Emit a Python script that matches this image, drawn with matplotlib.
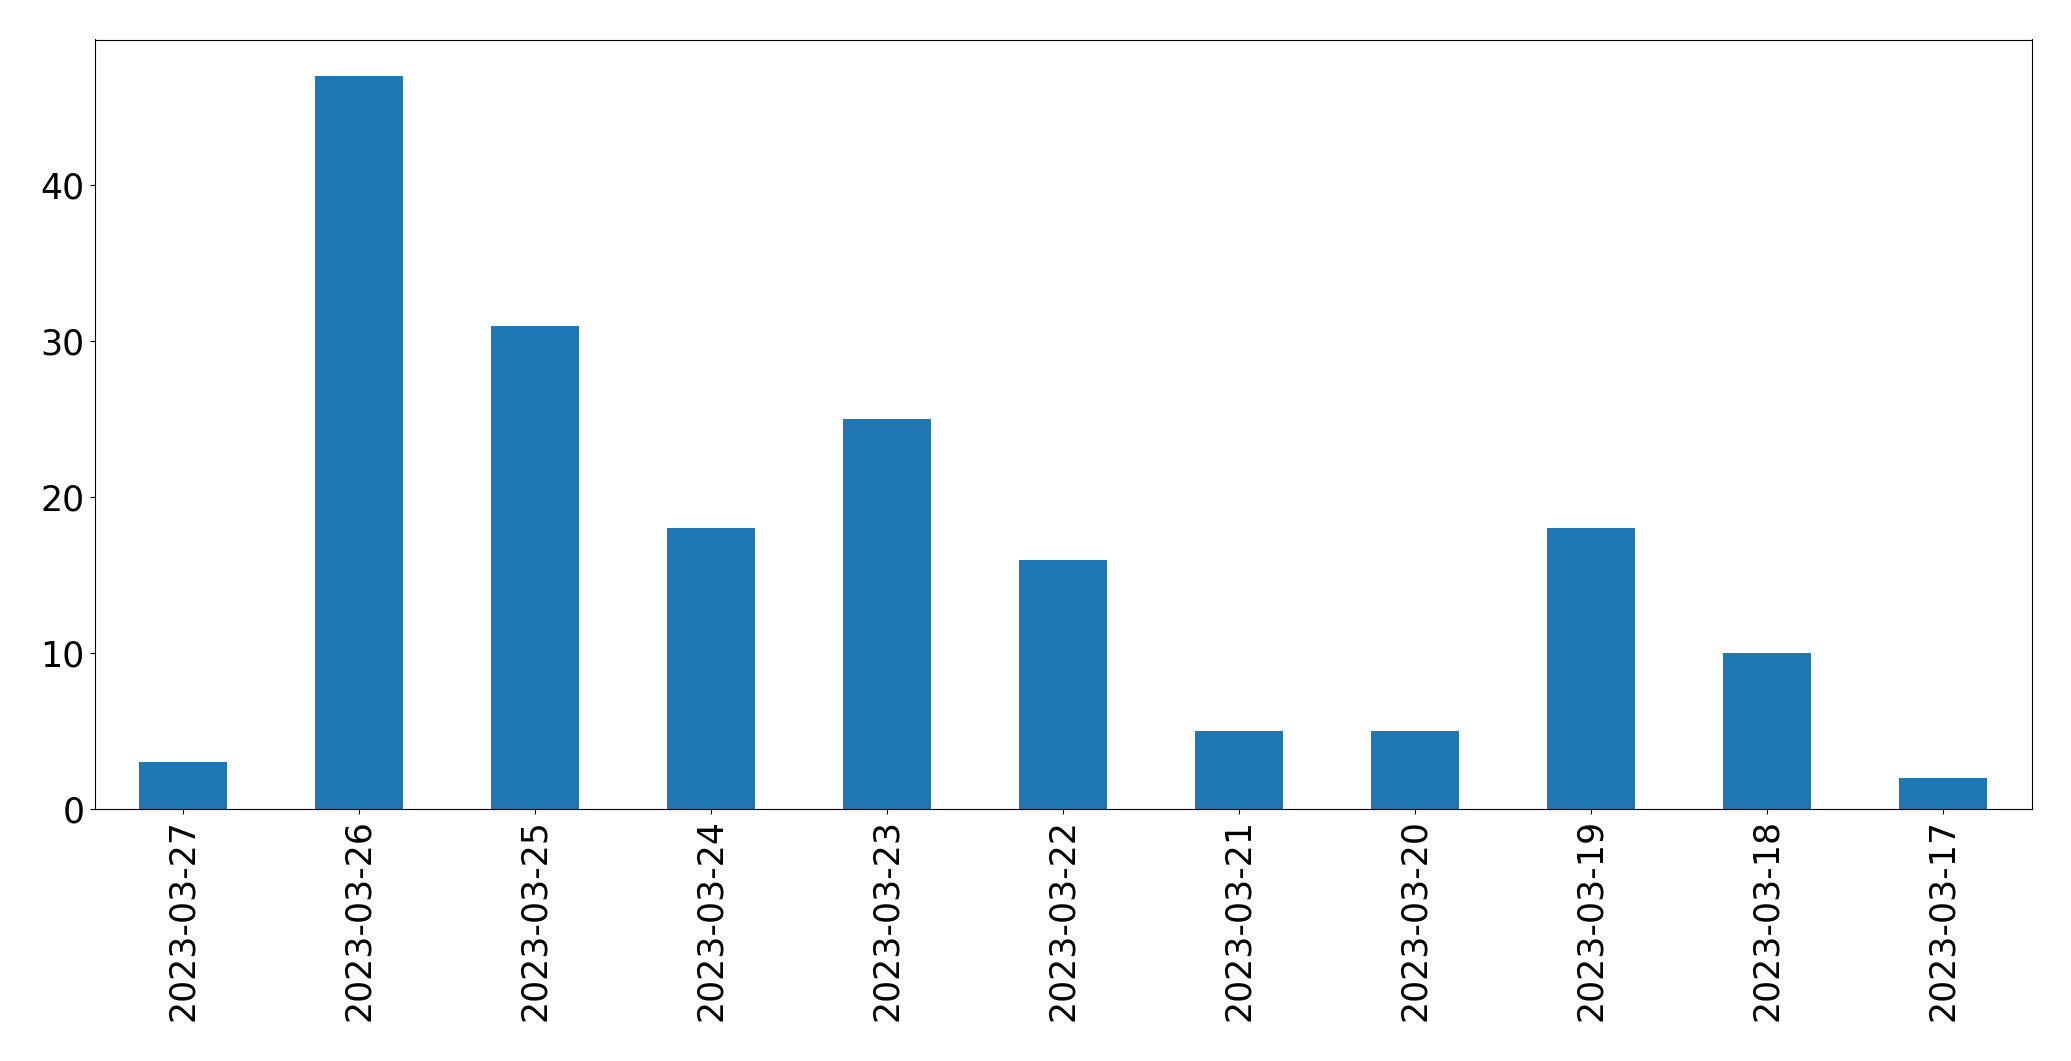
import matplotlib
matplotlib.use("Agg")
import matplotlib.pyplot as plt
import numpy as np

# daily counts, newest first
dates = ["2023-03-27", "2023-03-26", "2023-03-25", "2023-03-24", "2023-03-23",
         "2023-03-22", "2023-03-21", "2023-03-20", "2023-03-19", "2023-03-18",
         "2023-03-17"]
counts = [3, 47, 31, 18, 25, 16, 5, 5, 18, 10, 2]

fig = plt.figure(figsize=(20.71, 10.61), dpi=100)
ax = fig.add_axes([94.5 / 2071, 1 - 809 / 1061, (2031.5 - 94.5) / 2071, (809 - 39.5) / 1061])

x = np.arange(len(dates))
ax.bar(x, counts, width=0.5, color="#1f77b4")
ax.set_xlim(-0.5, len(dates) - 0.5)
ax.set_ylim(0, max(counts) * 1.05)
ax.set_xticks(x)
ax.set_xticklabels(dates, rotation=90)
ax.set_yticks([0, 10, 20, 30, 40])
ax.tick_params(labelsize=25)

fig.savefig("out.png", dpi=100)
